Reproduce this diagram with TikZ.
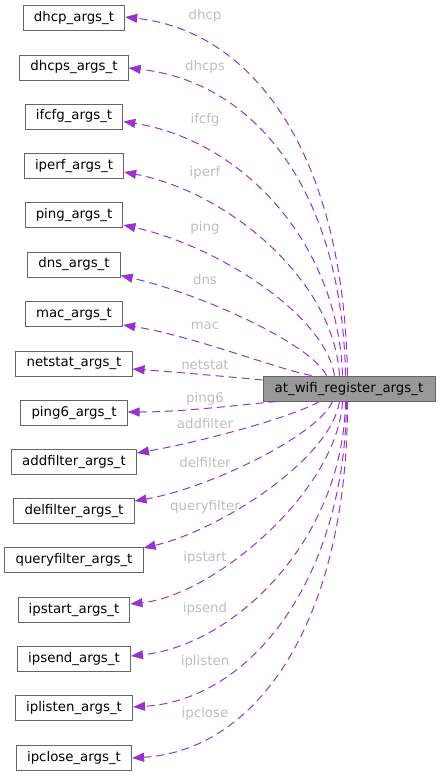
\documentclass[tikz,border=0pt]{standalone}
\usepackage{fontspec}
\setmainfont{DejaVu Sans}
\usetikzlibrary{arrows.meta,calc}
\definecolor{edgec}{HTML}{9A32CD}
\definecolor{boxc}{HTML}{666666}
\definecolor{mainfill}{HTML}{999999}
\definecolor{lblc}{HTML}{BEBEBE}
\begin{document}
\begin{tikzpicture}[x=0.75pt,y=-0.75pt,
  box/.style={draw=boxc, line width=0.75pt, minimum height=18.75pt, inner xsep=8pt, inner ysep=0pt, font=\fontsize{10}{12}\selectfont},
  mainbox/.style={box, fill=mainfill, minimum width=129pt},
  rel/.style={draw=edgec, line width=0.75pt, dash pattern=on 6pt off 3.75pt, -{Triangle[length=9pt,width=6.75pt]}},
  lbl/.style={text=lblc, font=\fontsize{10}{12}\selectfont, inner sep=0pt}]
\useasboundingbox (0,0) rectangle (440,776);
\node[mainbox] (main) at (349,388.5) {at\_wifi\_register\_args\_t};
\node[box] (dhcp) at (74,18) {dhcp\_args\_t};
\node[box] (dhcps) at (74,67.5) {dhcps\_args\_t};
\node[box] (ifcfg) at (74,116.5) {ifcfg\_args\_t};
\node[box] (iperf) at (74,166) {iperf\_args\_t};
\node[box] (ping) at (74,215) {ping\_args\_t};
\node[box] (dns) at (74,264.5) {dns\_args\_t};
\node[box] (mac) at (74,314) {mac\_args\_t};
\node[box] (netstat) at (74,363.5) {netstat\_args\_t};
\node[box] (ping6) at (74,412.5) {ping6\_args\_t};
\node[box] (addfilter) at (74,461.5) {addfilter\_args\_t};
\node[box] (delfilter) at (74,510.5) {delfilter\_args\_t};
\node[box] (queryfilter) at (74,560) {queryfilter\_args\_t};
\node[box] (ipstart) at (74,609.5) {ipstart\_args\_t};
\node[box] (ipsend) at (74,658.5) {ipsend\_args\_t};
\node[box] (iplisten) at (74,708) {iplisten\_args\_t};
\node[box] (ipclose) at (74,757.5) {ipclose\_args\_t};
% edges (top group)
\draw[rel] ($(main.north west)+(85,0)$) .. controls (344,160) and (258,32) .. ($(dhcp.east)+(0,-1)$);
\draw[rel] ($(main.north west)+(83,0)$) .. controls (342,190) and (255,82) .. ($(dhcps.east)+(0,0.5)$);
\draw[rel] ($(main.north west)+(80,0)$) .. controls (338,240) and (240,140) .. ($(ifcfg.east)+(0,5)$);
\draw[rel] ($(main.north west)+(77,0)$) .. controls (334,280) and (228,192) .. ($(iperf.east)+(0,6)$);
\draw[rel] ($(main.north west)+(72,0)$) .. controls (325,315) and (218,246) .. ($(ping.east)+(0,10)$);
\draw[rel] ($(main.north west)+(64,0)$) .. controls (312,345) and (205,295) .. ($(dns.east)+(0,11)$);
\draw[rel] ($(main.north west)+(49,0)$) .. controls (280,370) and (190,335) .. ($(mac.east)+(0,11)$);
\draw[rel] ($(main.west)+(0,-8.5)$) .. controls (220,376) and (175,372) .. ($(netstat.east)+(0,5.5)$);
% edges (bottom group)
\draw[rel] ($(main.south west)+(14,0)$) .. controls (230,406) and (180,412) .. ($(ping6.east)+(0,-0.5)$);
\draw[rel] ($(main.south west)+(57,0)$) .. controls (290,418) and (200,442) .. ($(addfilter.east)+(0,-8.5)$);
\draw[rel] ($(main.south west)+(70,0)$) .. controls (318,435) and (210,488) .. ($(delfilter.east)+(0,-9.5)$);
\draw[rel] ($(main.south west)+(77,0)$) .. controls (330,460) and (220,530) .. ($(queryfilter.east)+(0,-12)$);
\draw[rel] ($(main.south west)+(80,0)$) .. controls (338,490) and (215,595) .. ($(ipstart.east)+(0,-5.5)$);
\draw[rel] ($(main.south west)+(83,0)$) .. controls (343,540) and (235,645) .. ($(ipsend.east)+(0,-2.5)$);
\draw[rel] ($(main.south west)+(84,0)$) .. controls (345,580) and (250,700) .. ($(iplisten.east)+(0,-1)$);
\draw[rel] ($(main.south west)+(85,0)$) .. controls (348,615) and (261,750) .. ($(ipclose.east)+(0,0.5)$);
% labels
\node[lbl] (l1) at (205,16) {dhcp};
\node[lbl] (l2) at (205,67) {dhcps};
\node[lbl] (l3) at (205,120) {ifcfg};
\node[lbl] (l4) at (205,173) {iperf};
\node[lbl] (l5) at (205,228) {ping};
\node[lbl] (l6) at (205,280) {dns};
\node[lbl] (l7) at (205,326) {mac};
\node[lbl] (l8) at (205,365) {netstat};
\node[lbl] (l9) at (205,399) {ping6};
\node[lbl] (l10) at (205,424) {addfilter};
\node[lbl] (l11) at (205,463) {delfilter};
\node[lbl] (l12) at (205,507) {queryfilter};
\node[lbl] (l13) at (205,558) {ipstart};
\node[lbl] (l14) at (205,609) {ipsend};
\node[lbl] (l15) at (205,662) {iplisten};
\node[lbl] (l16) at (205,714) {ipclose};
\end{tikzpicture}
\end{document}
